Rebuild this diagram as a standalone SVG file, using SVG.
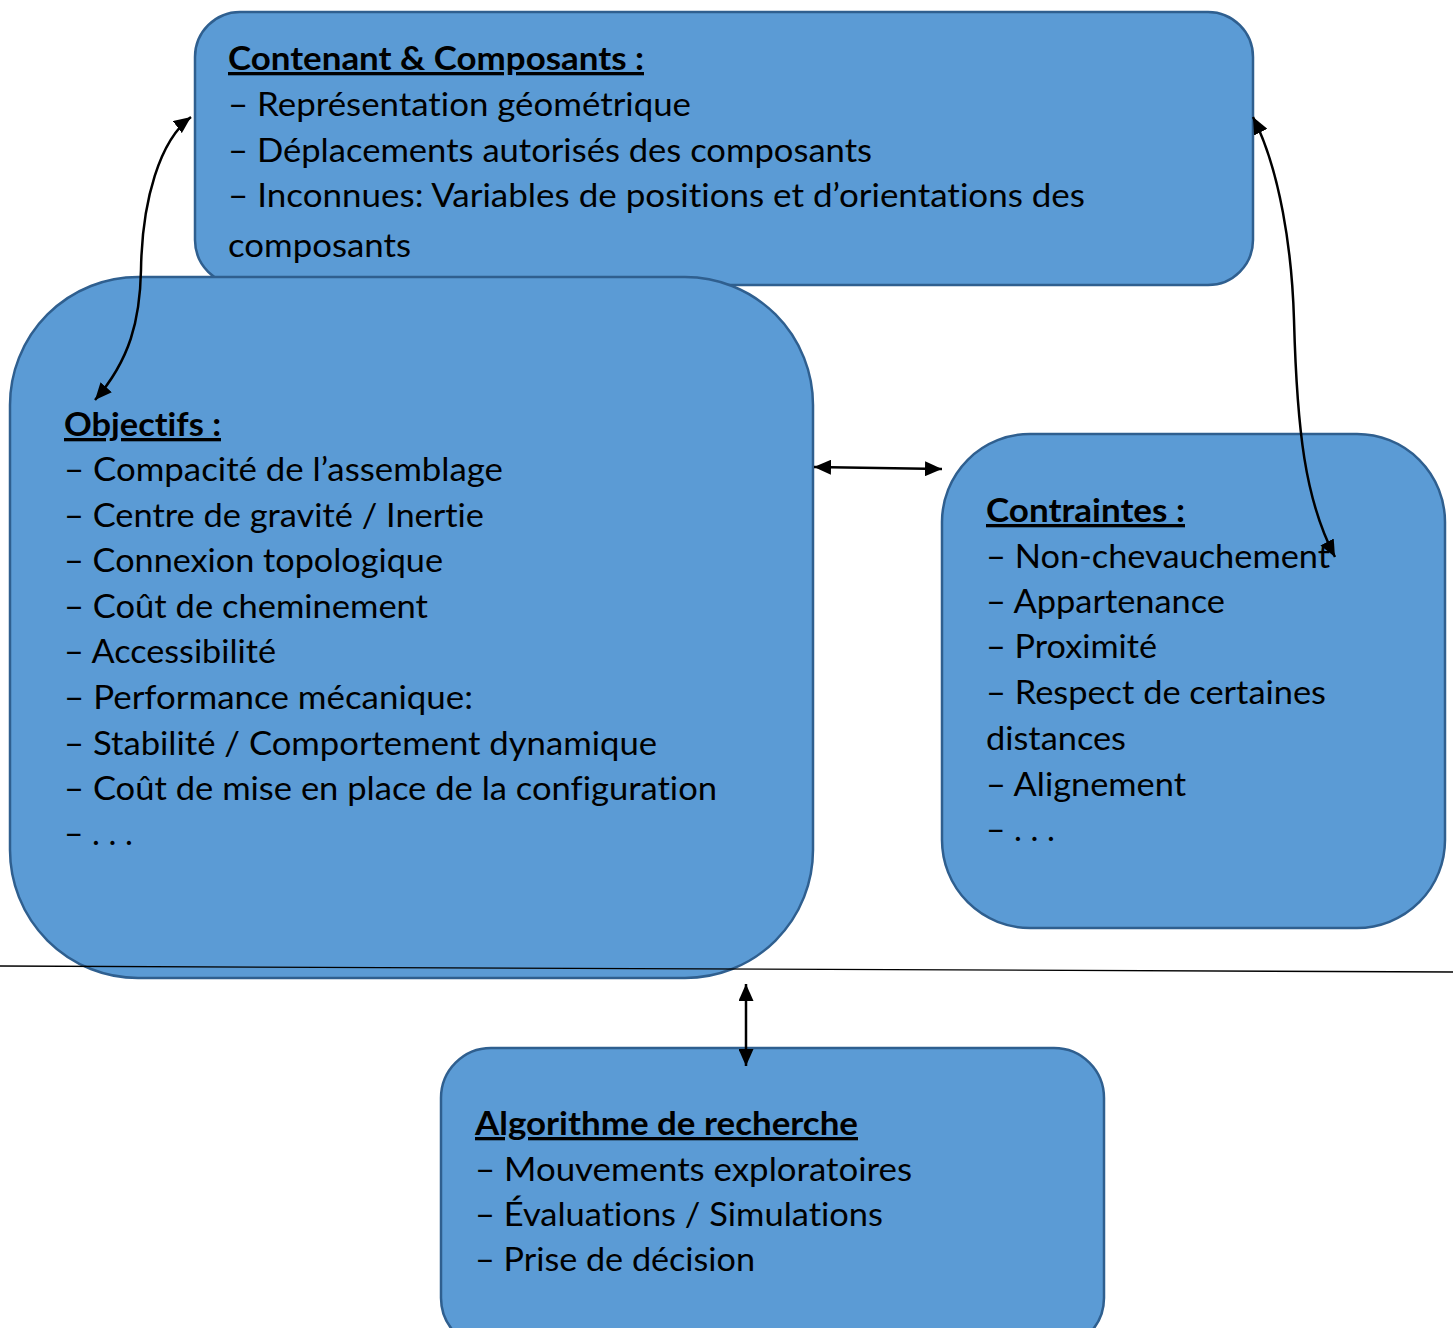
<svg xmlns="http://www.w3.org/2000/svg" width="1453" height="1328" viewBox="0 0 1453 1328">
<style>
.box{fill:#5B9BD5;stroke:#2F5F8F;stroke-width:2.5}
text{font-family:Lato,"Open Sans","Liberation Sans",sans-serif;font-size:33px;fill:#000;font-variant-ligatures:none}
.t{font-weight:bold;text-decoration:underline}
.c{fill:none;stroke:#000;stroke-width:2.5}
</style>
<defs>
<marker id="ah" markerUnits="userSpaceOnUse" markerWidth="18" markerHeight="15" refX="17" refY="7.5" orient="auto-start-reverse" viewBox="0 0 18 15">
<path d="M0,0 L17,7.5 L0,15 z" fill="#000"/>
</marker>
</defs>
<rect width="1453" height="1328" fill="#fff"/>
<g id="node-contenant">
<rect class="box" x="195" y="12" width="1058" height="273" rx="45"/>
<text class="t" x="228" y="70" textLength="416" lengthAdjust="spacingAndGlyphs">Contenant &amp; Composants :</text>
<text x="228" y="116" textLength="463" lengthAdjust="spacingAndGlyphs">– Représentation géométrique</text>
<text x="228" y="162" textLength="644" lengthAdjust="spacingAndGlyphs">– Déplacements autorisés des composants</text>
<text x="228" y="207" textLength="857" lengthAdjust="spacingAndGlyphs">– Inconnues: Variables de positions et d’orientations des</text>
<text x="228" y="257" textLength="183" lengthAdjust="spacingAndGlyphs">composants</text>
</g>
<g id="node-objectifs">
<rect class="box" x="10" y="277" width="803" height="701" rx="128"/>
<text class="t" x="64" y="436" textLength="157" lengthAdjust="spacingAndGlyphs">Objectifs :</text>
<text x="64" y="481" textLength="439" lengthAdjust="spacingAndGlyphs">– Compacité de l’assemblage</text>
<text x="64" y="527" textLength="420" lengthAdjust="spacingAndGlyphs">– Centre de gravité / Inertie</text>
<text x="64" y="572" textLength="379" lengthAdjust="spacingAndGlyphs">– Connexion topologique</text>
<text x="64" y="618" textLength="364" lengthAdjust="spacingAndGlyphs">– Coût de cheminement</text>
<text x="64" y="663" textLength="212" lengthAdjust="spacingAndGlyphs">– Accessibilité</text>
<text x="64" y="709" textLength="409" lengthAdjust="spacingAndGlyphs">– Performance mécanique:</text>
<text x="64" y="755" textLength="593" lengthAdjust="spacingAndGlyphs">– Stabilité / Comportement dynamique</text>
<text x="64" y="800" textLength="653" lengthAdjust="spacingAndGlyphs">– Coût de mise en place de la configuration</text>
<text x="64" y="845" textLength="69" lengthAdjust="spacingAndGlyphs">– . . .</text>
</g>
<g id="node-contraintes">
<rect class="box" x="942" y="434" width="503" height="494" rx="88"/>
<text class="t" x="986" y="522" textLength="199" lengthAdjust="spacingAndGlyphs">Contraintes :</text>
<text x="986" y="568" textLength="344" lengthAdjust="spacingAndGlyphs">– Non-chevauchement</text>
<text x="986" y="613" textLength="239" lengthAdjust="spacingAndGlyphs">– Appartenance</text>
<text x="986" y="658" textLength="171" lengthAdjust="spacingAndGlyphs">– Proximité</text>
<text x="986" y="704" textLength="340" lengthAdjust="spacingAndGlyphs">– Respect de certaines</text>
<text x="986" y="750" textLength="140" lengthAdjust="spacingAndGlyphs">distances</text>
<text x="986" y="796" textLength="200" lengthAdjust="spacingAndGlyphs">– Alignement</text>
<text x="986" y="841" textLength="69" lengthAdjust="spacingAndGlyphs">– . . .</text>
</g>
<g id="node-algorithme">
<rect class="box" x="441" y="1048" width="663" height="300" rx="50"/>
<text class="t" x="475" y="1135" textLength="383" lengthAdjust="spacingAndGlyphs">Algorithme de recherche</text>
<text x="475" y="1181" textLength="437" lengthAdjust="spacingAndGlyphs">– Mouvements exploratoires</text>
<text x="475" y="1226" textLength="408" lengthAdjust="spacingAndGlyphs">– Évaluations / Simulations</text>
<text x="475" y="1271" textLength="280" lengthAdjust="spacingAndGlyphs">– Prise de décision</text>
</g>
<g id="connectors">
<path class="c" d="M95,400 C130,360 140,320 141,270 C142,200 160,140 191,117" marker-start="url(#ah)" marker-end="url(#ah)"/>
<path class="c" d="M1253,117 C1280,170 1292,250 1294,320 C1297,430 1305,500 1335,557" marker-start="url(#ah)" marker-end="url(#ah)"/>
<path class="c" d="M814,467 L942,469" marker-start="url(#ah)" marker-end="url(#ah)"/>
<path class="c" d="M746,984 L746,1066" marker-start="url(#ah)" marker-end="url(#ah)"/>
<path d="M0,966 L1453,972" fill="none" stroke="#000" stroke-width="1.3"/>
</g>
</svg>
